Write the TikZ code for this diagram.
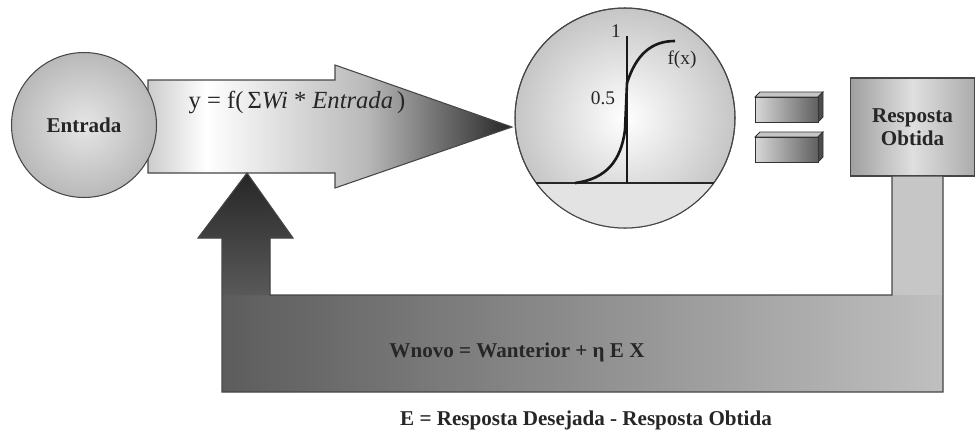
\documentclass[tikz,border=0pt]{standalone}
\usepackage{fontspec}
\setmainfont{Liberation Serif}
\usetikzlibrary{positioning}

\pgfdeclarehorizontalshading{bigarrow}{100bp}{%
  color(0bp)=(gray!40); color(25bp)=(gray!40); color(33bp)=(white);
  color(55bp)=(gray!55); color(75bp)=(black!85); color(100bp)=(black!85)}

\begin{document}
\begin{tikzpicture}[x=0.02cm, y=0.02cm]

\tikzset{
  edge/.style={draw=gray!55!black, line width=0.6pt},
  lbl/.style={text=black!85, font=\bfseries\fontsize{12}{13}\selectfont},
  small/.style={text=black!85, font=\fontsize{11}{12}\selectfont},
}

\useasboundingbox (0,0) rectangle (976,441);

%---------------------------------------
% Input arrow and input node
%---------------------------------------
\path[shade, shading=bigarrow, edge]
  (148,361) -- (335,361) -- (335,376) -- (512,314)
  -- (335,253) -- (335,268) -- (148,268) -- cycle;

\node[circle, minimum size=2.9cm, inner color=gray!20, outer color=gray!55,
      edge, lbl] (entrada) at (84,316) {Entrada};

\node[text=black!85, font=\fontsize{14}{15}\selectfont] (soma) at (297,339)
  {y = f(\,Σ\textit{Wi} * \textit{Entrada}\,)};

%---------------------------------------
% Activation function
%---------------------------------------
\node[circle, minimum size=4.4cm, inner color=white, outer color=gray!45,
      edge] (ativacao) at (625,323) {};

\begin{scope}
  \clip (ativacao.center) circle (110);
  \fill[gray!22] (500,200) rectangle (750,258);
\end{scope}
\draw[edge] (ativacao.center) circle (110);

% Axes
\draw[black!85, line width=0.7pt] (536,258) -- (714,258);
\draw[black!90, line width=1.1pt] (627,258) -- (627,405);

% Sigmoid
\draw[black!90, line width=1.5pt]
  (575,258) .. controls (606,262) and (621,280) .. (625,311) -- (627,358)
  .. controls (636,386) and (651,400) .. (675,400);

\node[small] (um) at (616,410) {1};
\node[small] (meio) at (603,343) {0.5};
\node[small] (fx) at (682,381) {f(x)};

%---------------------------------------
% Equal sign
%---------------------------------------
\foreach \yb in {319,279}{
  \fill[gray!45, draw=gray!40!black, line width=0.5pt]
    (755,\yb+25) -- (760,\yb+30) -- (823,\yb+30) -- (818,\yb+25) -- cycle;
  \fill[black!70, draw=gray!40!black, line width=0.5pt]
    (818,\yb+25) -- (823,\yb+30) -- (823,\yb+5) -- (818,\yb) -- cycle;
  \path[left color=gray!30, right color=gray!75!black, draw=gray!40!black,
        line width=0.5pt] (755,\yb) rectangle (818,\yb+25);
}

%---------------------------------------
% Output
%---------------------------------------
\node[rectangle, minimum width=2.48cm, minimum height=1.96cm,
      left color=gray!75, right color=gray!65, middle color=gray!25,
      edge, lbl, align=center] (obtida) at (912.5,314) {Resposta\\Obtida};

%---------------------------------------
% Feedback path
%---------------------------------------
\def\retorno{(943,265) -- (943,49) -- (222,49) -- (222,203) -- (198,203)
  -- (247,268) -- (293,203) -- (270,203) -- (270,146) -- (892,146)
  -- (892,265) -- cycle}

\path[left color=gray!70!black, right color=gray!50] \retorno;
\fill[gray!45] (892,146) rectangle (943,265);
\path[top color=black!85, bottom color=gray!70!black]
  (222,203) -- (198,203) -- (247,268) -- (293,203) -- (270,203)
  -- (270,146) -- (222,146) -- cycle;
\path[edge] \retorno;

\node[lbl] (regra) at (517,89) {Wnovo = Wanterior + η E X};
\node[lbl] (erro) at (586,21) {E = Resposta Desejada - Resposta Obtida};

\end{tikzpicture}
\end{document}
